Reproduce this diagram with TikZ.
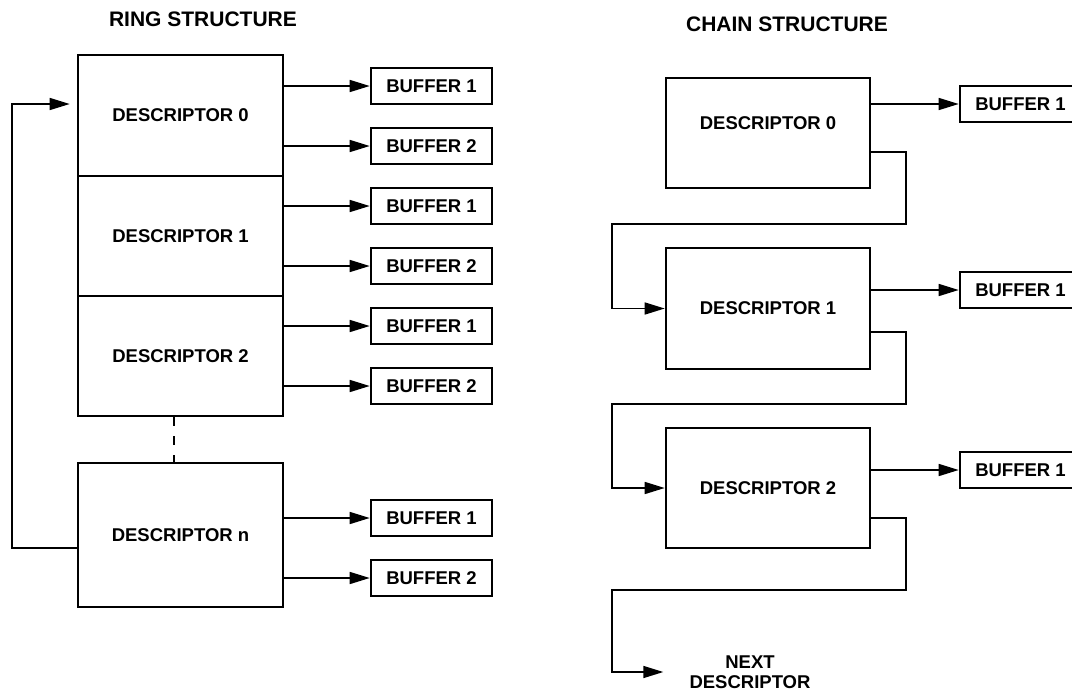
\documentclass[tikz,border=0pt]{standalone}
\usepackage{fontspec}
\setmainfont{Liberation Sans}
\usetikzlibrary{arrows.meta}
\begin{document}
\begin{tikzpicture}[x=1pt,y=-1pt,
  lab/.style={font=\fontsize{18.5}{21}\selectfont\bfseries},
  desc/.style={draw, line width=2.6pt, minimum width=205pt, inner sep=0pt, lab},
  buf/.style={draw, line width=2.6pt, minimum width=121pt, minimum height=36pt, inner sep=0pt, lab},
  conn/.style={line width=1.5pt},
  arr/.style={conn, -{Triangle[length=20pt,width=12pt]}},
  ttl/.style={font=\fontsize{21}{24}\selectfont\bfseries}]
\useasboundingbox (0,0) rectangle (1072,694);
\clip (0,0) rectangle (1072,694);

% titles
\node[ttl] (t1) at (203,19) {RING STRUCTURE};
\node[ttl] (t2) at (787,24) {CHAIN STRUCTURE};

% ring structure
\node[desc, minimum height=121pt] (r0) at (180.5,115.5) {DESCRIPTOR 0};
\node[desc, minimum height=120pt] (r1) at (180.5,236) {DESCRIPTOR 1};
\node[desc, minimum height=120pt] (r2) at (180.5,356) {DESCRIPTOR 2};
\node[desc, minimum height=144pt] (rn) at (180.5,535) {DESCRIPTOR n};

\node[buf] (b01) at (431.5,86) {BUFFER 1};
\node[buf] (b02) at (431.5,146) {BUFFER 2};
\node[buf] (b11) at (431.5,206) {BUFFER 1};
\node[buf] (b12) at (431.5,266) {BUFFER 2};
\node[buf] (b21) at (431.5,326) {BUFFER 1};
\node[buf] (b22) at (431.5,386) {BUFFER 2};
\node[buf] (bn1) at (431.5,518) {BUFFER 1};
\node[buf] (bn2) at (431.5,578) {BUFFER 2};

\foreach \d/\b in {r0/b01,r0/b02,r1/b11,r1/b12,r2/b21,r2/b22,rn/bn1,rn/bn2}
  \draw[arr] (\d.east |- \b.west) -- (\b.west);

\coordinate (dx) at (174,0);
\draw[line width=2pt, dash pattern=on 9pt off 10pt] (r2.south -| dx) -- (rn.north -| dx);

\coordinate (loopb) at (12,548);
\draw[arr, shorten >=7pt] (rn.west |- loopb) -- (loopb) |- (r0.west |- 0,104);

% chain structure
\node[desc, minimum height=110pt, minimum width=204pt] (c0) at (768,133) {};
\node[lab] (c0t) at (768,123) {DESCRIPTOR 0};
\node[desc, minimum height=121pt, minimum width=204pt] (c1) at (768,308.5) {DESCRIPTOR 1};
\node[desc, minimum height=120pt, minimum width=204pt] (c2) at (768,488) {DESCRIPTOR 2};

\node[buf] (cb0) at (1020.5,104) {BUFFER 1};
\node[buf] (cb1) at (1020.5,290) {BUFFER 1};
\node[buf] (cb2) at (1020.5,470) {BUFFER 1};

\foreach \d/\b in {c0/cb0,c1/cb1,c2/cb2}
  \draw[arr] (\d.east |- \b.west) -- (\b.west);

\draw[arr] (c0.east |- 0,152) -- (906,152) -- (906,224) -- (612,224) |- (c1.west);
\draw[arr] (c1.east |- 0,332) -- (906,332) -- (906,404) -- (612,404) |- (c2.west);

\node[lab, align=center, inner sep=0pt] (nx) at (750,672) {NEXT\\[-1pt]DESCRIPTOR};
\draw[arr, shorten >=26pt] (c2.east |- 0,518) -- (906,518) -- (906,590) -- (612,590) |- (nx.west);
\end{tikzpicture}
\end{document}
